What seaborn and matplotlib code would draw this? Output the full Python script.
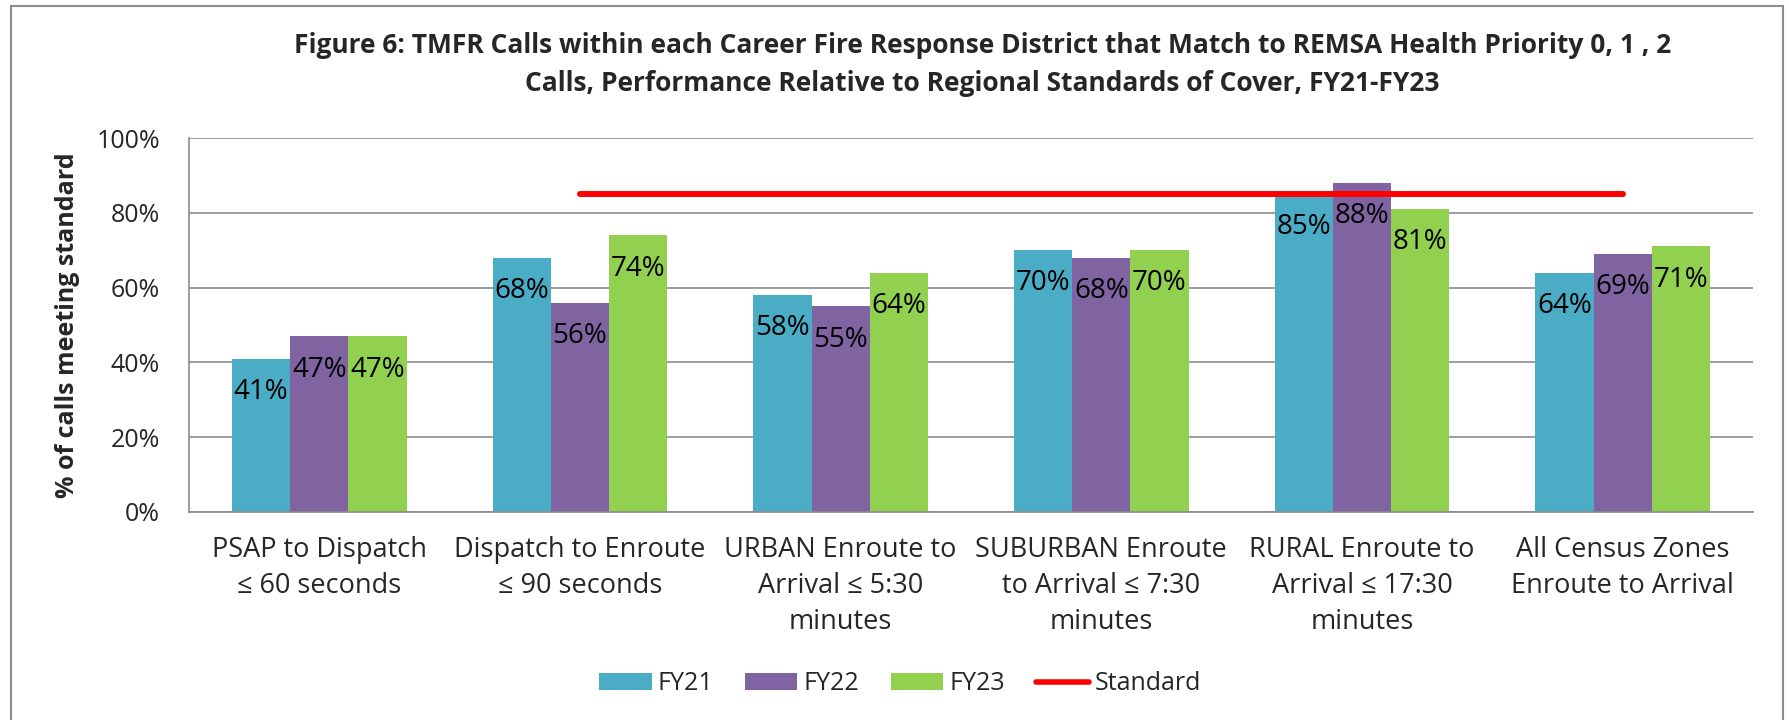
import numpy as np
import pandas as pd
import matplotlib
matplotlib.use("Agg")
import matplotlib.pyplot as plt
from matplotlib.patches import Patch, Rectangle
from matplotlib.lines import Line2D
import seaborn as sns

# data
categories = [
    "PSAP to Dispatch\n≤ 60 seconds",
    "Dispatch to Enroute\n≤ 90 seconds",
    "URBAN Enroute to\nArrival ≤ 5:30\nminutes",
    "SUBURBAN Enroute\nto Arrival ≤ 7:30\nminutes",
    "RURAL Enroute to\nArrival ≤ 17:30\nminutes",
    "All Census Zones\nEnroute to Arrival",
]
years = ["FY21", "FY22", "FY23"]
fy21 = [41, 68, 58, 70, 85, 64]
fy22 = [47, 56, 55, 68, 88, 69]
fy23 = [47, 74, 64, 70, 81, 71]
standard = [np.nan, 85, 85, 85, 85, 85]

colors = ["#4BACC6", "#8064A2", "#92D050"]
grid_col = "#8C8C8C"

sns.set_style("white")
plt.rcParams["font.family"] = ["Open Sans", "DejaVu Sans"]

# long table for seaborn
df = pd.DataFrame({
    "category": categories * 3,
    "year": [y for y in years for _ in categories],
    "value": fy21 + fy22 + fy23,
})

fig = plt.figure(figsize=(17.9, 7.2), dpi=100)
ax = fig.add_axes([0.1056, 0.2889, 0.8737, 0.5194])

sns.barplot(data=df, x="category", y="value", hue="year", order=categories,
            hue_order=years, palette=colors, width=0.67, linewidth=0,
            saturation=1, legend=False, ax=ax, zorder=2)

# value labels, inside the top of each bar
series = [fy21, fy22, fy23]
for cont, vals in zip(ax.containers, series):
    for bar, v in zip(cont, vals):
        ax.annotate(f"{v}%", (bar.get_x() + bar.get_width() / 2, bar.get_height()),
                    xytext=(0, -29), textcoords="offset points",
                    ha="center", va="baseline", fontsize=20, color="black", zorder=4)

# standard line
ax.plot(np.arange(len(categories)), standard, color="#FF0000", lw=4.3,
        solid_capstyle="round", zorder=3)

ax.set_ylim(0, 100)
ax.set_xlim(-0.5, len(categories) - 0.5)
ax.set_yticks(range(0, 101, 20))
ax.set_yticklabels([f"{t}%" for t in range(0, 101, 20)])
ax.yaxis.grid(True, color=grid_col, lw=1.2, zorder=0)
ax.set_axisbelow(True)
ax.tick_params(axis="y", length=0, pad=21, labelsize=18)
ax.tick_params(axis="x", which="major", length=0, pad=17, labelsize=19.5)
ax.set_xticks(np.arange(len(categories) + 1) - 0.5, minor=True)
ax.tick_params(axis="x", which="minor", length=6, width=1.2, color=grid_col, direction="out")
for lbl in ax.get_xticklabels():
    lbl.set_linespacing(1.38)

for s in ["top", "right"]:
    ax.spines[s].set_visible(False)
for s in ["left", "bottom"]:
    ax.spines[s].set_color(grid_col)
    ax.spines[s].set_linewidth(1.2)

ax.set_xlabel("")
ax.set_ylabel("% of calls meeting standard", fontsize=18, fontweight="bold")
ax.yaxis.set_label_coords(-0.070, 0.5)

fig.text(0.549, 0.955,
         "Figure 6: TMFR Calls within each Career Fire Response District that Match to REMSA Health Priority 0, 1 , 2\n"
         "Calls, Performance Relative to Regional Standards of Cover, FY21-FY23",
         ha="center", va="top", fontsize=19, fontweight="bold", linespacing=1.5)

handles = [Patch(facecolor=c, edgecolor="none") for c in colors]
handles.append(Line2D([0], [0], color="#FF0000", lw=4, solid_capstyle="round"))
fig.legend(handles, years + ["Standard"], loc="center", bbox_to_anchor=(0.503, 0.05),
           ncol=4, frameon=False, fontsize=18, handlelength=2.1, handleheight=0.65,
           handletextpad=0.25, columnspacing=1.25)

# outer chart border
fig.patches.append(Rectangle((11 / 1790, -0.05), (1783 - 11) / 1790, 1.05 - 6 / 720,
                             transform=fig.transFigure, fill=False,
                             edgecolor="#8C8C8C", lw=1.5))

fig.savefig("out.png", dpi=100)
